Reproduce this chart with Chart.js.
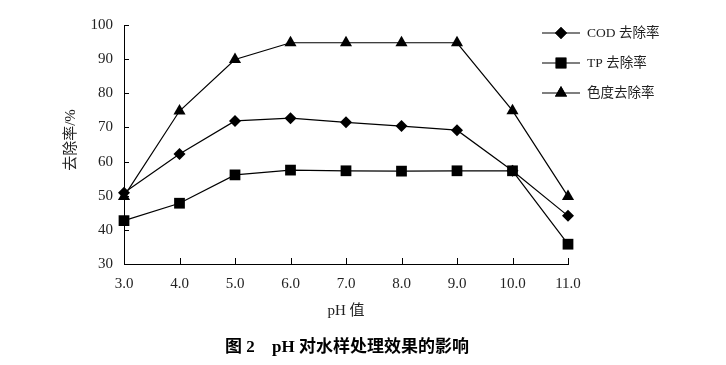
<!DOCTYPE html>
<html><head><meta charset="utf-8">
<script src="https://cdn.jsdelivr.net/npm/chart.js@4/dist/chart.umd.min.js"></script>
<style>html,body{margin:0;padding:0;background:#fff;}#wrap{width:726px;height:365px;}</style>
</head><body><div id="wrap"><canvas id="c" width="726" height="365"></canvas></div>
<script>
const categories = ['3.0','4.0','5.0','6.0','7.0','8.0','9.0','10.0','11.0'];
const codValues = [50.9, 62.2, 71.9, 72.7, 71.5, 70.4, 69.2, 57.3, 44.1];
const tpValues = [42.7, 47.8, 56.1, 57.5, 57.3, 57.2, 57.3, 57.3, 35.8];
const colorValues = [49.8, 74.8, 89.9, 94.8, 94.8, 94.8, 94.8, 74.9, 49.8];
const seriesNames = ['COD 去除率', 'TP 去除率', '色度去除率'];
const yMin = 30, yMax = 100, yStep = 5;

const SERIF = '"Liberation Serif", "Noto Sans CJK SC", serif';
const styles = ['rectRot', 'rect', 'triangle'];
const radii = [6, 7.6, 7];

const overlay = {
  id: 'overlay',
  afterDraw(chart) {
    const ctx = chart.ctx;
    const xs = chart.scales.x, ys = chart.scales.y;
    ctx.save();
    ctx.strokeStyle = '#000';
    ctx.lineWidth = 1;
    ys.ticks.forEach(t => {
      const y = Math.round(ys.getPixelForValue(t.value)) + 0.5;
      ctx.beginPath(); ctx.moveTo(xs.left, y); ctx.lineTo(xs.left + 5, y); ctx.stroke();
    });
    categories.forEach((c, i) => {
      const x = Math.round(xs.getPixelForValue(i)) + 0.5;
      ctx.beginPath(); ctx.moveTo(x, ys.bottom); ctx.lineTo(x, ys.bottom - 6); ctx.stroke();
    });
    ctx.fillStyle = '#222';
    ctx.textAlign = 'center'; ctx.textBaseline = 'middle';
    ctx.font = '15px ' + SERIF;
    ctx.fillText('pH 值', 346, 311);
    ctx.save();
    ctx.translate(71, 140); ctx.rotate(-Math.PI / 2);
    ctx.fillText('去除率/%', 0, 0);
    ctx.restore();
    ctx.fillStyle = '#000';
    ctx.font = 'bold 17px ' + SERIF;
    ctx.textAlign = 'left';
    ctx.fillText('图 2', 225, 348);
    ctx.fillText('pH 对水样处理效果的影响', 272, 348);
    const ly = [33, 63, 93];
    ctx.font = '13.5px ' + SERIF;
    chart.data.datasets.forEach((ds, i) => {
      ctx.strokeStyle = '#000'; ctx.lineWidth = 1.2;
      ctx.beginPath(); ctx.moveTo(542, ly[i]); ctx.lineTo(580, ly[i]); ctx.stroke();
      ctx.fillStyle = '#000';
      Chart.helpers.drawPoint(ctx, {pointStyle: styles[i], radius: radii[i], rotation: 0, borderWidth: 0}, 561, ly[i]);
      ctx.fill();
      ctx.fillStyle = '#222';
      ctx.fillText(ds.label, 587, ly[i]);
    });
    ctx.restore();
  }
};

const mk = (label, data, i) => ({
  label, data,
  borderColor: '#000', backgroundColor: '#000', borderWidth: 1.2,
  pointStyle: styles[i], pointRadius: radii[i], pointHoverRadius: radii[i],
  pointBackgroundColor: '#000', pointBorderColor: '#000', pointBorderWidth: 0,
  tension: 0, fill: false, clip: false
});

new Chart(document.getElementById('c'), {
  type: 'line',
  data: {
    labels: categories,
    datasets: [mk(seriesNames[0], codValues, 0), mk(seriesNames[1], tpValues, 1), mk(seriesNames[2], colorValues, 2)]
  },
  options: {
    responsive: false, animation: false,
    layout: { padding: { left: 0, right: 158, top: 25, bottom: 0 } },
    plugins: { legend: { display: false }, tooltip: { enabled: false } },
    scales: {
      x: {
        type: 'category', offset: false,
        grid: { display: false, drawTicks: false },
        border: { display: true, color: '#000', width: 1 },
        ticks: { color: '#222', font: { family: SERIF, size: 15 }, padding: 11, maxRotation: 0, autoSkip: false },
        afterFit: s => { s.height = 101; }
      },
      y: {
        min: yMin, max: yMax,
        grid: { display: false, drawTicks: false },
        border: { display: true, color: '#000', width: 1 },
        ticks: { stepSize: yStep, color: '#222', font: { family: SERIF, size: 15 }, padding: 11,
          callback: v => (v % 10 === 0 ? String(v) : '') },
        afterFit: s => { s.width = 124; }
      }
    }
  },
  plugins: [overlay]
});
</script></body></html>
